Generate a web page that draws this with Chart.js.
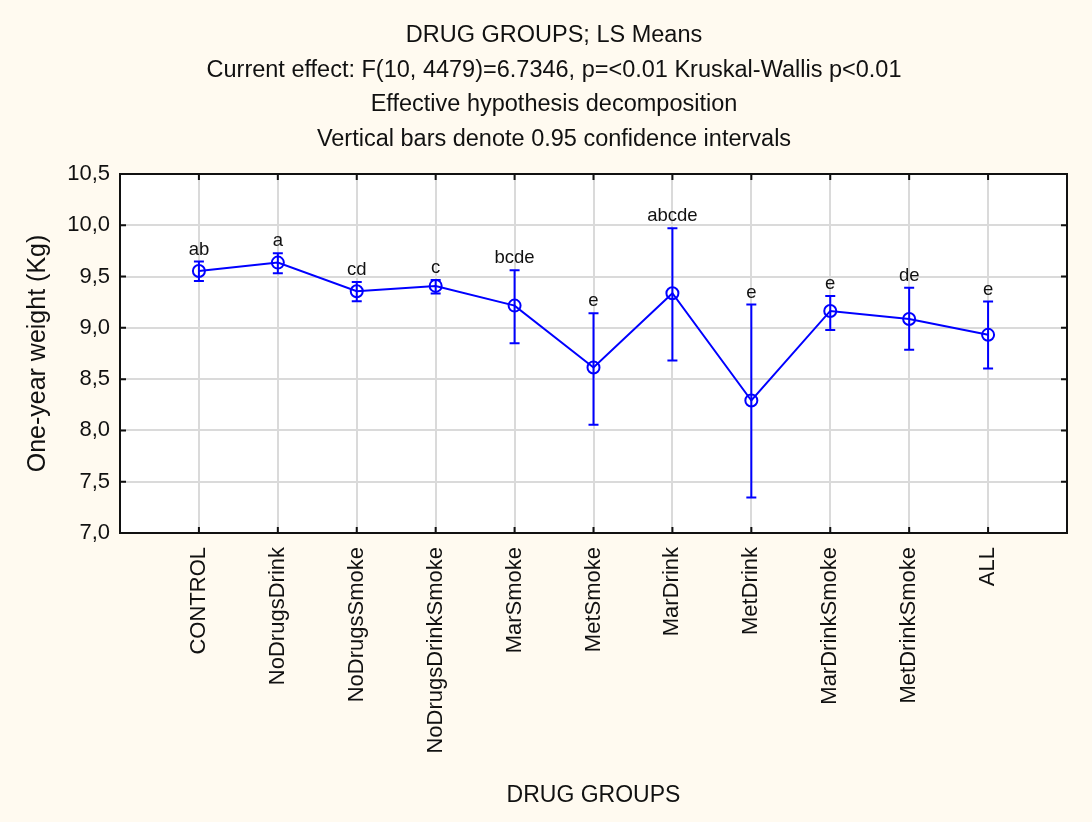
<!DOCTYPE html>
<html>
<head>
<meta charset="utf-8">
<script src="https://cdn.jsdelivr.net/npm/chart.js@4/dist/chart.umd.min.js"></script>
<style>
  html, body { margin: 0; padding: 0; background: #FFFAF0; }
  #wrap { width: 1092px; height: 822px; }
</style>
</head>
<body>
<div id="wrap"><canvas id="c" width="1092" height="822"></canvas></div>
<script>
// ---- data ----
const categories = ["CONTROL", "NoDrugsDrink", "NoDrugsSmoke", "NoDrugsDrinkSmoke", "MarSmoke",
                    "MetSmoke", "MarDrink", "MetDrink", "MarDrinkSmoke", "MetDrinkSmoke", "ALL"];
const means   = [9.555, 9.636, 9.357, 9.409, 9.217, 8.613, 9.338, 8.292, 9.165, 9.087, 8.932];
const ciUpper = [9.646, 9.727, 9.448, 9.467, 9.562, 9.143, 9.971, 9.227, 9.311, 9.392, 9.256];
const ciLower = [9.458, 9.533, 9.260, 9.334, 8.851, 8.055, 8.681, 7.347, 8.980, 8.786, 8.603];
const groupLetters = ["ab", "a", "cd", "c", "bcde", "e", "abcde", "e", "e", "de", "e"];
const yTicks = [7.0, 7.5, 8.0, 8.5, 9.0, 9.5, 10.0, 10.5];
const titleLines = [
  "DRUG GROUPS; LS Means",
  "Current effect: F(10, 4479)=6.7346, p=<0.01 Kruskal-Wallis p<0.01",
  "Effective hypothesis decomposition",
  "Vertical bars denote 0.95 confidence intervals"
];
const xTitle = "DRUG GROUPS";
const yTitle = "One-year weight (Kg)";

const FONT = "'Liberation Sans', Arial, sans-serif";
const BLUE = "#0000FF";

const points = categories.map((c, i) => ({ x: i + 1, y: means[i] }));

const bgPlugin = {
  id: 'bg',
  beforeDraw(chart) {
    const ctx = chart.ctx, a = chart.chartArea;
    ctx.save();
    ctx.fillStyle = '#FFFAF0';
    ctx.fillRect(0, 0, chart.width, chart.height);
    ctx.fillStyle = '#FFFFFF';
    ctx.fillRect(a.left, a.top, a.right - a.left, a.bottom - a.top);
    ctx.restore();
  }
};

const titlePlugin = {
  id: 'multiTitle',
  afterDraw(chart) {
    const ctx = chart.ctx;
    ctx.save();
    ctx.fillStyle = '#111';
    ctx.font = "23.5px " + FONT;
    ctx.textAlign = 'center';
    ctx.textBaseline = 'middle';
    titleLines.forEach((t, i) => ctx.fillText(t, 554, 36 + i * 34.5));
    ctx.restore();
  }
};

const framePlugin = {
  id: 'frame',
  afterDatasetsDraw(chart) {
    const ctx = chart.ctx, a = chart.chartArea;
    const xs = chart.scales.x, ys = chart.scales.y;
    ctx.save();
    // error bars
    ctx.strokeStyle = BLUE;
    ctx.lineWidth = 2;
    const cap = 5;
    categories.forEach((c, i) => {
      const px = xs.getPixelForValue(i + 1);
      const yt = ys.getPixelForValue(ciUpper[i]);
      const yb = ys.getPixelForValue(ciLower[i]);
      ctx.beginPath();
      ctx.moveTo(px, yt); ctx.lineTo(px, yb);
      ctx.moveTo(px - cap, yt); ctx.lineTo(px + cap, yt);
      ctx.moveTo(px - cap, yb); ctx.lineTo(px + cap, yb);
      ctx.stroke();
      // letters
      ctx.fillStyle = '#111';
      ctx.font = "18.5px " + FONT;
      ctx.textAlign = 'center';
      ctx.textBaseline = 'alphabetic';
      ctx.fillText(groupLetters[i], px, yt - 7);
    });
    // frame
    ctx.strokeStyle = '#111';
    ctx.lineWidth = 2;
    ctx.strokeRect(a.left, a.top, a.right - a.left, a.bottom - a.top);
    // inward ticks
    const t = 6;
    ctx.beginPath();
    yTicks.forEach(v => {
      const py = ys.getPixelForValue(v);
      ctx.moveTo(a.left, py); ctx.lineTo(a.left + t, py);
      ctx.moveTo(a.right, py); ctx.lineTo(a.right - t, py);
    });
    categories.forEach((c, i) => {
      const px = xs.getPixelForValue(i + 1);
      ctx.moveTo(px, a.bottom); ctx.lineTo(px, a.bottom - t);
      ctx.moveTo(px, a.top); ctx.lineTo(px, a.top + t);
    });
    ctx.stroke();
    ctx.restore();
  }
};

new Chart(document.getElementById('c'), {
  type: 'line',
  data: {
    datasets: [{
      data: points,
      borderColor: BLUE,
      borderWidth: 2,
      tension: 0,
      pointStyle: 'circle',
      pointRadius: 6,
      pointBorderWidth: 2,
      pointBorderColor: BLUE,
      pointBackgroundColor: 'rgba(0,0,0,0)'
    }]
  },
  options: {
    responsive: false,
    animation: false,
    layout: { padding: { left: 0, right: 25, top: 174, bottom: 0 } },
    plugins: {
      legend: { display: false },
      tooltip: { enabled: false },
      title: { display: false }
    },
    scales: {
      x: {
        type: 'linear',
        min: 0, max: 12,
        afterBuildTicks(scale) {
          scale.ticks = categories.map((c, i) => ({ value: i + 1 }));
        },
        afterFit(scale) { scale.height = 289; },
        border: { display: false },
        grid: { color: '#DADADA', lineWidth: 2, drawTicks: false },
        ticks: {
          autoSkip: false,
          minRotation: 90, maxRotation: 90,
          padding: 14,
          color: '#111',
          font: { family: FONT, size: 22 },
          callback: (v) => categories[v - 1] || ''
        },
        title: {
          display: true, text: xTitle, color: '#111',
          font: { family: FONT, size: 23 },
          padding: { top: 0, bottom: 13 }
        }
      },
      y: {
        min: 7, max: 10.5,
        afterBuildTicks(scale) {
          scale.ticks = yTicks.map(v => ({ value: v }));
        },
        afterFit(scale) { scale.width = 120; },
        border: { display: false },
        grid: { color: '#DADADA', lineWidth: 2, drawTicks: false },
        ticks: {
          padding: 10,
          color: '#111',
          font: { family: FONT, size: 22 },
          callback: (v) => Number(v).toFixed(1).replace('.', ',')
        },
        title: {
          display: true, text: yTitle, color: '#111',
          font: { family: FONT, size: 25 },
          padding: { top: 23, bottom: 0 }
        }
      }
    }
  },
  plugins: [bgPlugin, framePlugin, titlePlugin]
});
</script>
</body>
</html>
